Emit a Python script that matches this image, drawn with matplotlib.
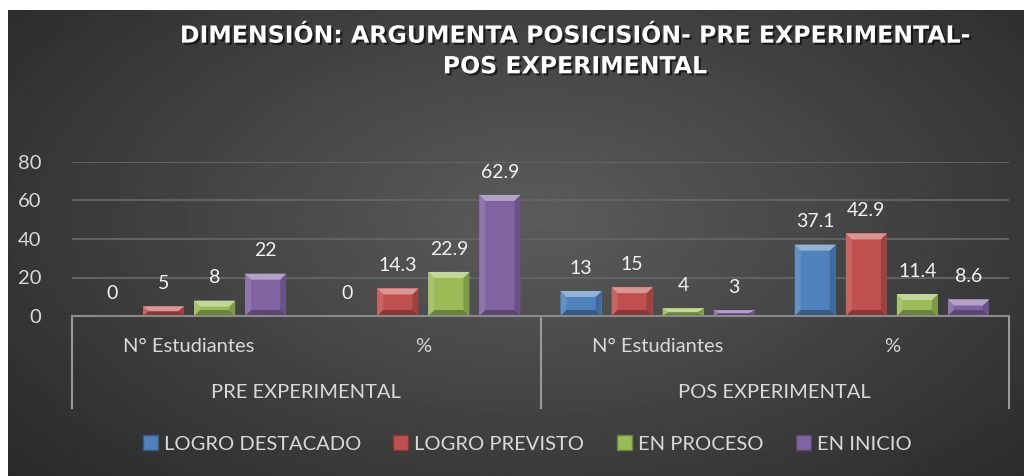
import numpy as np
import matplotlib
matplotlib.use("Agg")
import matplotlib.pyplot as plt
from matplotlib.patches import Polygon, Patch
import matplotlib.patheffects as pe
from matplotlib.colors import to_rgb

# ==========================================================
# DATA
# ==========================================================

groups = ["PRE EXPERIMENTAL", "POS EXPERIMENTAL"]
subcats = ["N° Estudiantes", "%", "N° Estudiantes", "%"]
series = ["LOGRO DESTACADO", "LOGRO PREVISTO", "EN PROCESO", "EN INICIO"]

logro_destacado = [0, 0, 13, 37.1]
logro_previsto = [5, 14.3, 15, 42.9]
en_proceso = [8, 22.9, 4, 11.4]
en_inicio = [22, 62.9, 3, 8.6]

values = [logro_destacado, logro_previsto, en_proceso, en_inicio]
labels = [["0", "0", "13", "37.1"],
          ["5", "14.3", "15", "42.9"],
          ["8", "22.9", "4", "11.4"],
          ["22", "62.9", "3", "8.6"]]

colors = ["#4F81BD", "#C0504D", "#9BBB59", "#8064A2"]

title = "DIMENSIÓN: ARGUMENTA POSICISIÓN- PRE EXPERIMENTAL-\nPOS EXPERIMENTAL"

TXT = "#d9d9d9"
FONT = "Lato"

# ==========================================================
# HELPERS
# ==========================================================

def mix(c, other, t):
    c = np.array(to_rgb(c))
    o = np.array(to_rgb(other))
    return tuple(c * (1 - t) + o * t)


def bevel_bar(ax, x0, w, h, color, bx, by):
    # bevel depth limited by bar size
    by = min(by, h / 2.0)
    bx = min(bx, w / 2.0)
    x1 = x0 + w
    top = [(x0, h), (x1, h), (x1 - bx, h - by), (x0 + bx, h - by)]
    left = [(x0, 0), (x0, h), (x0 + bx, h - by), (x0 + bx, by)]
    right = [(x1, 0), (x1, h), (x1 - bx, h - by), (x1 - bx, by)]
    bottom = [(x0, 0), (x1, 0), (x1 - bx, by), (x0 + bx, by)]
    ax.add_patch(Polygon(left, closed=True, fc=mix(color, "white", 0.12), ec="none", zorder=4))
    ax.add_patch(Polygon(right, closed=True, fc=mix(color, "black", 0.18), ec="none", zorder=4))
    ax.add_patch(Polygon(bottom, closed=True, fc=mix(color, "black", 0.3), ec="none", zorder=4))
    ax.add_patch(Polygon(top, closed=True, fc=mix(color, "white", 0.4), ec="none", zorder=4))


# ==========================================================
# FIGURE + BACKGROUND
# ==========================================================

fig = plt.figure(figsize=(10.24, 4.76), dpi=100)
fig.patch.set_facecolor("white")

bg = fig.add_axes([8 / 1024, 0, 1 - 8 / 1024, 1 - 10 / 476])
yy, xx = np.mgrid[0:1:300j, 0:1:600j]
r = np.sqrt(((xx - 0.52) / 0.7) ** 2 + ((yy - 0.45) / 0.85) ** 2)
shade = np.clip(1 - r, 0, 1)
gray = 0.16 + 0.2 * shade
bg.imshow(gray, cmap="gray", vmin=0, vmax=1, aspect="auto",
          extent=[0, 1, 0, 1], interpolation="bilinear")
bg.set_axis_off()

# ==========================================================
# BARS
# ==========================================================

ax = fig.add_axes([72 / 1024, 1 - 316 / 476, 937 / 1024, 154 / 476])
ax.set_facecolor("none")

n_cat = len(subcats)
x = np.arange(n_cat)
bw = 41 / 234
step = 51 / 234
px_per_unit = 154 / 80.0
bx = 6 / 234
by = 6 / px_per_unit

for i, (vals, col) in enumerate(zip(values, colors)):
    pos = x + (i - 1.5) * step
    ax.bar(pos, vals, width=bw, color=col, edgecolor="none", zorder=3)
    for p, v, lab in zip(pos, vals, labels[i]):
        if v > 0:
            bevel_bar(ax, p - bw / 2, bw, v, col, bx, by)
        ax.annotate(lab, (p, v), xytext=(0, 16.5), textcoords="offset points",
                    ha="center", va="center", color="#f2f2f2",
                    fontsize=14, family=FONT, zorder=5)

ax.set_xlim(-0.5, n_cat - 0.5)
ax.set_ylim(0, 80)
ax.set_yticks([0, 20, 40, 60, 80])
ax.yaxis.grid(True, color="#626262", lw=1.5, zorder=0)
ax.set_axisbelow(True)
ax.tick_params(axis="y", length=0, pad=22, colors=TXT, labelsize=14.5)
for lab in ax.get_yticklabels():
    lab.set_family(FONT)
ax.set_xticks([])
for s in ax.spines.values():
    s.set_visible(False)

# ==========================================================
# CATEGORY AXIS (two levels)
# ==========================================================

trans = ax.get_xaxis_transform()
ax.plot([-0.5, n_cat - 0.5], [0, 0], color="#8a8a8a", lw=1.5,
        transform=trans, clip_on=False, zorder=6)
for xv in [-0.5, 1.5, n_cat - 0.5]:
    ax.plot([xv, xv], [0, -0.597], color="#9a9a9a", lw=1.5,
            transform=trans, clip_on=False)

for xi, name in zip(x, subcats):
    ax.text(xi, -0.2, name, transform=trans, ha="center", va="center",
            color=TXT, fontsize=14.5, family=FONT)
for gi, name in enumerate(groups):
    ax.text(gi * 2 + 0.5, -0.5, name, transform=trans, ha="center", va="center",
            color=TXT, fontsize=14.5, family=FONT)

# ==========================================================
# TITLE + LEGEND
# ==========================================================

fig.text(575 / 1024, 1 - 51 / 476, title, ha="center", va="center",
         color="white", fontsize=17, fontweight="bold", family="DejaVu Sans",
         linespacing=1.35,
         path_effects=[pe.withSimplePatchShadow(offset=(1.5, -1.5), shadow_rgbFace="black", alpha=0.6)])

handles = [Patch(facecolor=c, edgecolor=mix(c, "black", 0.3)) for c in colors]
leg = fig.legend(handles, series, loc="center", bbox_to_anchor=(527 / 1024, 1 - 444 / 476),
                 ncol=4, frameon=False, handlelength=0.75, handleheight=0.75,
                 handletextpad=0.3, columnspacing=1.6,
                 prop={"family": FONT, "size": 14.5})
for t in leg.get_texts():
    t.set_color(TXT)

fig.savefig("out.png", dpi=100)
